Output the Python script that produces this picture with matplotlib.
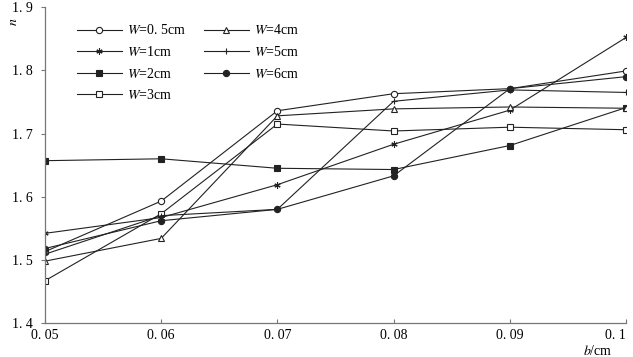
import matplotlib
matplotlib.use("Agg")
import matplotlib.pyplot as plt

# --- data ---
b_vals = [0.05, 0.06, 0.07, 0.08, 0.09, 0.10]
n_w05 = [1.513, 1.593, 1.736, 1.763, 1.771, 1.799]
n_w1 = [1.542, 1.567, 1.619, 1.683, 1.737, 1.852]
n_w2 = [1.657, 1.660, 1.645, 1.643, 1.681, 1.741]
n_w3 = [1.467, 1.573, 1.715, 1.704, 1.710, 1.706]
n_w4 = [1.498, 1.534, 1.728, 1.739, 1.742, 1.740]
n_w5 = [1.509, 1.570, 1.580, 1.751, 1.769, 1.765]
n_w6 = [1.518, 1.562, 1.580, 1.633, 1.771, 1.790]

x_ticklabels = ["0. 05", "0. 06", "0. 07", "0. 08", "0. 09", "0. 1"]
y_ticks = [1.4, 1.5, 1.6, 1.7, 1.8, 1.9]
y_ticklabels = ["1. 4", "1. 5", "1. 6", "1. 7", "1. 8", "1. 9"]

plt.rcParams["font.family"] = ["Liberation Serif", "DejaVu Serif"]
plt.rcParams["mathtext.fontset"] = "stix"

line_c = "#222222"
fig = plt.figure(figsize=(6.33, 3.57), dpi=100)
ax = fig.add_axes([0.071, 0.095, 0.918, 0.885])

kw = dict(color=line_c, lw=0.8, ms=4.5, mew=0.8)
series = [
    (n_w05, "o", "white", "$W$=0. 5cm"),
    (n_w1, (6, 2, 0), line_c, "$W$=1cm"),
    (n_w2, "s", line_c, "$W$=2cm"),
    (n_w3, "s", "white", "$W$=3cm"),
    (n_w4, "^", "white", "$W$=4cm"),
    (n_w5, "+", line_c, "$W$=5cm"),
    (n_w6, "o", line_c, "$W$=6cm"),
]
handles = {}
for vals, mk, fc, lab in series:
    h, = ax.plot(b_vals, vals, marker=mk, mfc=fc, mec=line_c, label=lab, **kw)
    handles[lab] = h

order = ["$W$=0. 5cm", "$W$=1cm", "$W$=2cm", "$W$=3cm",
         "$W$=4cm", "$W$=5cm", "$W$=6cm"]
ax.legend([handles[k] for k in order], order, ncol=2, frameon=False,
          loc="upper left", bbox_to_anchor=(0.04, 0.975), fontsize=10,
          handlelength=3.3, handletextpad=0.3, columnspacing=1.3,
          labelspacing=0.55, borderaxespad=0.2)

ax.set_xlim(0.05, 0.1)
ax.set_ylim(1.4, 1.9)
ax.set_xticks(b_vals)
xlabs = ax.set_xticklabels(x_ticklabels, fontsize=10)
xlabs[-1].set_horizontalalignment("right")  # keep "0. 1" inside the figure
ax.set_yticks(y_ticks)
ax.set_yticklabels(y_ticklabels, fontsize=10)

for side in ["top", "right"]:
    ax.spines[side].set_visible(False)
for side in ["left", "bottom"]:
    ax.spines[side].set_color("#777777")
    ax.spines[side].set_linewidth(0.9)
ax.tick_params(axis="x", direction="in", length=3, color="#777777", pad=4)
ax.tick_params(axis="y", direction="out", length=3, color="#777777", pad=6)

fig.text(0.022, 0.94, "$n$", rotation=90, fontsize=10, ha="center", va="center")
fig.text(0.945, 0.018, "$b$/cm", fontsize=10, ha="center", va="center")

fig.savefig("out.png", dpi=100)
